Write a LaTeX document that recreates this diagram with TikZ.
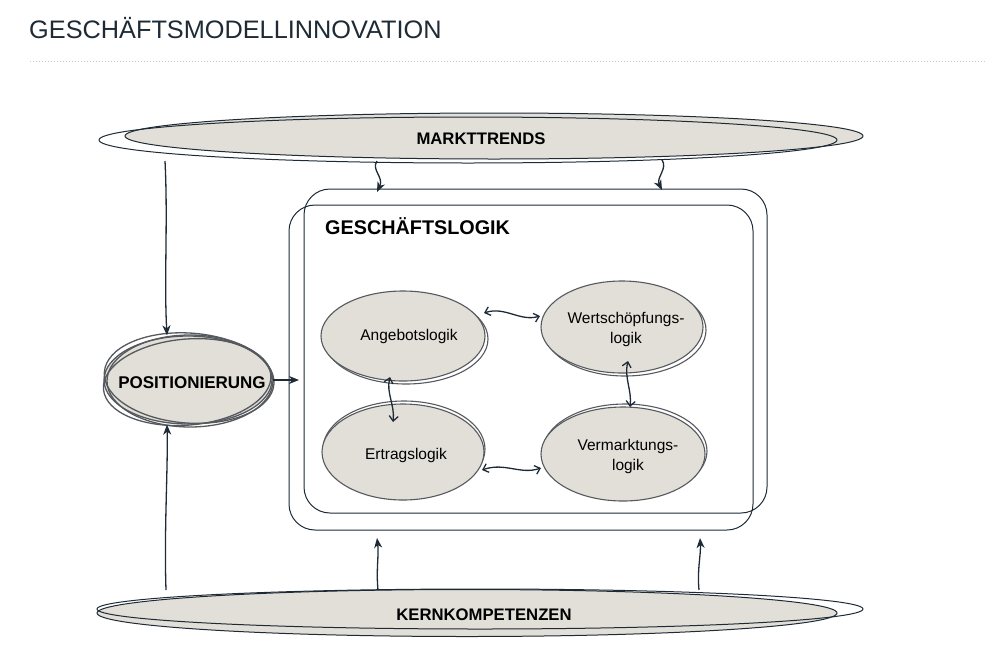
\documentclass[tikz,border=0pt]{standalone}
\usepackage{fontspec}
\setmainfont{Liberation Sans}
\usetikzlibrary{shapes.geometric,arrows.meta}
\definecolor{fillc}{HTML}{E1DFD8}
\definecolor{ink}{HTML}{1E2B36}
\definecolor{ringc}{HTML}{55595E}
\begin{document}
\begin{tikzpicture}[x=1pt,y=-1pt,
  bigell/.style={ellipse,draw=ink,fill=fillc,line width=1pt,inner sep=0pt},
  biglab/.style={inner sep=0pt,font=\bfseries\fontsize{16.7}{19}\selectfont,text=black},
  logell/.style={ellipse,draw=ringc,fill=fillc,line width=1.1pt,inner sep=0pt},
  loglab/.style={inner sep=0pt,align=center,font=\fontsize{15.5}{20}\selectfont,text=black},
  ring/.style={draw=ringc,line width=1.1pt},
  conn/.style={draw=ink,line width=1.3pt},
  dbl/.style={conn,{Straight Barb[length=5pt,width=9pt]}-{Straight Barb[length=5pt,width=9pt]}},
  one/.style={conn,-{Stealth[length=10pt,width=8pt,inset=3pt]}},
  boxline/.style={draw=ink,line width=1pt,rounded corners=26pt}]
\useasboundingbox (0,0) rectangle (987,656);

% title and rule
\node[anchor=west,inner sep=0pt,text=ink,font=\fontsize{25.3}{28}\selectfont] (title) at (29,28) {GESCHÄFTSMODELLINNOVATION};
\coordinate (rl) at (30,61);
\coordinate (rr) at (987,61);
\draw[gray!40,dotted,line width=1pt] (rl) -- (rr);

% MARKTTRENDS
\node[bigell,minimum width=738pt,minimum height=46pt] (mt) at (494,136) {};
\draw[draw=ink,line width=1pt] (468,140) ellipse [x radius=369, y radius=23];
\node[biglab] (mtl) at (481,139) {MARKTTRENDS};

% KERNKOMPETENZEN
\node[bigell,minimum width=740pt,minimum height=47pt] (kk) at (467,613) {};
\draw[draw=ink,line width=1pt] (480,609) ellipse [x radius=383, y radius=20];
\node[biglab] (kkl) at (484,615) {KERNKOMPETENZEN};

% Geschaeftslogik frame
\draw[boxline] (304,189) -- (767,189) -- (767,513) -- (304,513) -- cycle;
\draw[boxline] (289,205) -- (753,205) -- (753,530) -- (289,530) -- cycle;
\node[anchor=west,inner sep=0pt,font=\bfseries\fontsize{19.8}{22}\selectfont] (gl) at (325,226) {GESCHÄFTSLOGIK};

% logic ellipses
\draw[ring] (406,339) ellipse [x radius=82, y radius=45];
\node[logell,minimum width=164pt,minimum height=90pt] (ang) at (403,336) {};
\node[loglab] (angT) at (409,336) {Angebotslogik};
\draw[ring] (625,330) ellipse [x radius=81, y radius=46];
\node[logell,minimum width=162pt,minimum height=92pt] (wert) at (622,327) {};
\node[loglab] (wertT) at (626,329) {Wertschöpfungs-\\logik};
\draw[ring] (404,449) ellipse [x radius=81, y radius=48];
\node[logell,minimum width=162pt,minimum height=96pt] (ert) at (403,452) {};
\node[loglab] (ertT) at (406,455) {Ertragslogik};
\draw[ring] (625,451) ellipse [x radius=82, y radius=47];
\node[logell,minimum width=164pt,minimum height=94pt] (verm) at (623,454) {};
\node[loglab] (vermT) at (628,456) {Vermarktungs-\\logik};

% POSITIONIERUNG
\node[ellipse,fill=fillc,draw=ringc,line width=1.3pt,minimum width=168pt,minimum height=88pt,inner sep=0pt] (pos) at (188,380) {};
\draw[ring,line width=1.3pt,rotate around={-4:(188,380)}] (189,378) ellipse [x radius=85, y radius=45];
\draw[ring,line width=1.3pt,rotate around={5:(188,380)}] (187,382) ellipse [x radius=84, y radius=43];
\draw[ring,line width=1.3pt] (190,381) ellipse [x radius=83, y radius=46];
\node[biglab,font=\bfseries\fontsize{17}{19}\selectfont] (posl) at (192,383) {POSITIONIERUNG};

% connectors
\coordinate (mtA) at (165,161);
\coordinate (kkA) at (166,590);
\draw[one] (mtA) .. controls (168,220) and (164,280) .. (pos.north -| 167,0);
\draw[one] (kkA) .. controls (164,530) and (168,470) .. (pos.south -| 167,0);
\coordinate (boxL) at (299,380);
\draw[one] (pos.east) -- (boxL);

\coordinate (m1) at (377,161);
\coordinate (m1e) at (377,192);
\coordinate (m2) at (662,160);
\coordinate (m2e) at (662,190);
\draw[one] (m1) .. controls (371,170) and (384,177) .. (m1e);
\draw[one] (m2) .. controls (668,168) and (656,178) .. (m2e);

\coordinate (k1) at (378,590);
\coordinate (k1e) at (377,538);
\coordinate (k2) at (699,590);
\coordinate (k2e) at (700,538);
\draw[one] (k1) .. controls (376,570) and (379,555) .. (k1e);
\draw[one] (k2) .. controls (697,570) and (701,555) .. (k2e);

\draw[dbl] (484,313) .. controls (505,306) and (520,322) .. (540,316);
\draw[dbl] (390,377) .. controls (386,393) and (395,405) .. (393,422);
\draw[dbl] (628,361) .. controls (624,378) and (632,390) .. (630,407);
\draw[dbl] (482,470) .. controls (505,462) and (520,475) .. (541,468);
\end{tikzpicture}
\end{document}
